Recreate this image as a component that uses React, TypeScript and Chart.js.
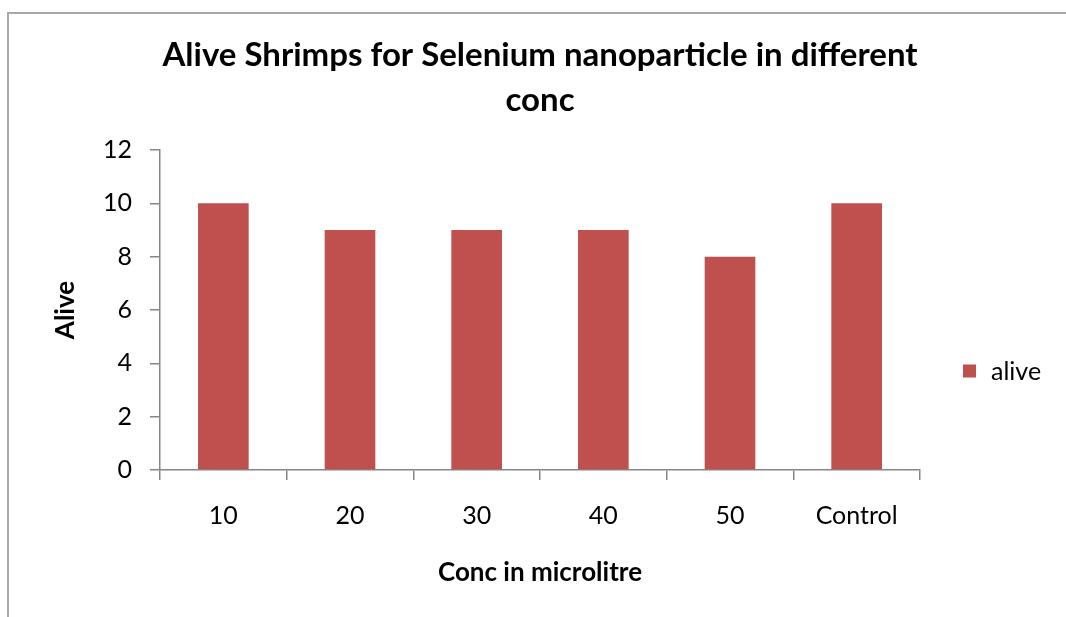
import React, { useEffect, useRef } from "react";
import { Chart, registerables } from "chart.js";

Chart.register(...registerables);

const categories = ["10", "20", "30", "40", "50", "Control"];
const aliveValues = [10, 9, 9, 9, 8, 10];
const seriesLabel = "alive";
const titleLines = ["Alive Shrimps for Selenium nanoparticle in different", "conc"];
const xAxisTitle = "Conc in microlitre";
const yAxisTitle = "Alive";
const yMin = 0;
const yMax = 12;
const yStep = 2;

const BAR_COLOR = "#C0504D";
const AXIS_COLOR = "#868686";
const FONT = "Lato, 'Open Sans', sans-serif";

const titlePlugin = {
  id: "customTitle",
  afterDraw(chart: any, _args: any, opts: any) {
    const ctx = chart.ctx;
    ctx.save();
    ctx.fillStyle = "#000";
    ctx.font = `bold ${opts.size}px ${FONT}`;
    ctx.textAlign = "center";
    ctx.textBaseline = "middle";
    (opts.lines as string[]).forEach((line, i) => {
      ctx.fillText(line, opts.x, opts.y + i * opts.lineGap);
    });
    ctx.restore();
  },
};

const legendPlugin = {
  id: "customLegend",
  afterDraw(chart: any, _args: any, opts: any) {
    const ctx = chart.ctx;
    const ds = chart.data.datasets[0];
    ctx.save();
    ctx.fillStyle = ds.backgroundColor;
    ctx.fillRect(opts.x, opts.y - opts.box / 2, opts.box, opts.box);
    ctx.fillStyle = "#000";
    ctx.font = `${opts.size}px ${FONT}`;
    ctx.textAlign = "left";
    ctx.textBaseline = "middle";
    ctx.fillText(ds.label, opts.x + opts.box + 15, opts.y + 1);
    ctx.restore();
  },
};

export default function App() {
  const canvasRef = useRef<HTMLCanvasElement | null>(null);

  useEffect(() => {
    if (!canvasRef.current) return;
    const chart = new Chart(canvasRef.current, {
      type: "bar",
      data: {
        labels: categories,
        datasets: [
          {
            label: seriesLabel,
            data: aliveValues,
            backgroundColor: BAR_COLOR,
            borderWidth: 0,
            categoryPercentage: 1,
            barPercentage: 0.4,
          },
        ],
      },
      plugins: [titlePlugin, legendPlugin],
      options: {
        animation: false,
        responsive: false,
        maintainAspectRatio: false,
        layout: { padding: { left: 0, right: 146, top: 150, bottom: 0 } },
        plugins: {
          legend: { display: false },
          title: { display: false },
          tooltip: { enabled: false },
          customTitle: { lines: titleLines, x: 540, y: 55, lineGap: 45, size: 33 },
          customLegend: { x: 963, y: 371, box: 13, size: 25 },
        } as any,
        scales: {
          x: {
            afterFit: (scale: any) => {
              scale.height = 147;
            },
            grid: {
              display: true,
              drawOnChartArea: false,
              drawTicks: true,
              tickLength: 10,
              color: AXIS_COLOR,
              lineWidth: 1.5,
            },
            border: { display: true, color: AXIS_COLOR, width: 1.5 },
            ticks: {
              color: "#000",
              font: { family: FONT, size: 25 },
              padding: 21,
              maxRotation: 0,
            },
            title: {
              display: true,
              text: xAxisTitle,
              color: "#000",
              font: { family: FONT, size: 26, weight: "bold" },
              padding: { top: 0, bottom: 29 },
            },
          },
          y: {
            min: yMin,
            max: yMax,
            afterFit: (scale: any) => {
              scale.width = 160;
            },
            ticks: {
              stepSize: yStep,
              color: "#000",
              font: { family: FONT, size: 25 },
              padding: 18,
            },
            grid: {
              display: true,
              drawOnChartArea: false,
              drawTicks: true,
              tickLength: 10,
              color: AXIS_COLOR,
              lineWidth: 1.5,
            },
            border: { display: true, color: AXIS_COLOR, width: 1.5 },
            title: {
              display: true,
              text: yAxisTitle,
              color: "#000",
              font: { family: FONT, size: 26, weight: "bold" },
              padding: { top: 50, bottom: 0 },
            },
          },
        },
      },
    });
    return () => chart.destroy();
  }, []);

  return (
    <div style={{ position: "fixed", left: 0, top: 0, width: 1066, height: 617, background: "#fff" }}>
      <div
        style={{
          position: "absolute",
          left: 7,
          top: 12,
          width: 1059,
          height: 605,
          borderLeft: "2px solid #a8a8a8",
          borderTop: "2px solid #a8a8a8",
          boxSizing: "border-box",
        }}
      />
      <canvas ref={canvasRef} width={1066} height={617} style={{ position: "absolute", left: 0, top: 0 }} />
    </div>
  );
}
